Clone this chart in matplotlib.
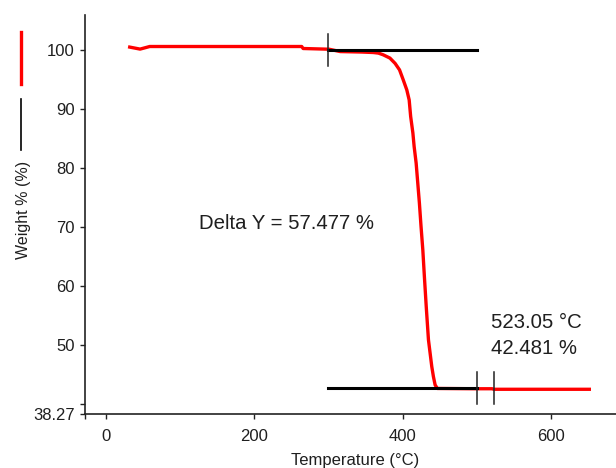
import matplotlib
matplotlib.use('Agg')
import matplotlib.pyplot as plt
from matplotlib.lines import Line2D

plt.rcParams['font.family'] = ['Liberation Sans', 'DejaVu Sans']

# TGA curve: temperature (°C) and weight (%)
temperature = [32, 46, 59, 264, 266, 301, 316, 345, 360.7, 367.5, 374, 383,
               390, 396, 401, 405.8, 409, 411, 414, 415.7, 418.4, 420.6,
               422.8, 425, 427.4, 429.5, 432, 435, 439.5, 441.7, 444, 447,
               500, 521, 523, 652]
weight = [100.46, 100.12, 100.56, 100.56, 100.22, 100.1, 99.7, 99.62, 99.54,
          99.44, 99.15, 98.6, 97.7, 96.6, 94.9, 93.2, 91.5, 88.7, 85.9, 83.6,
          80.8, 77.4, 74.0, 70.05, 66.1, 61.6, 56.5, 50.85, 46.3, 44.6, 43.2,
          42.6, 42.55, 42.55, 42.46, 42.46]

# step analysis lines (start, end, level)
upper_line = [300, 500, 99.958]
lower_line = [300, 500, 42.75]
upper_mark = 300
lower_marks = [500, 523.05]

delta_y = 57.477
end_temp = 523.05
end_weight = 42.481

y_min = 38.27
y_ticks = [y_min, 40, 50, 60, 70, 80, 90, 100]
y_tick_labels = ['38.27', '', '50', '60', '70', '80', '90', '100']
x_ticks = [-28.3, 0, 200, 400, 600]
x_tick_labels = ['', '0', '200', '400', '600']

text_color = '#1f1f1f'

fig = plt.figure(figsize=(6.16, 4.68), dpi=100)
ax = fig.add_axes([85 / 616, 1 - 414 / 468, 531 / 616, 399 / 468])

ax.plot(temperature, weight, color='red', lw=2.4)

# horizontal step lines
ax.plot(upper_line[:2], [upper_line[2]] * 2, color='black', lw=2.2)
ax.plot(lower_line[:2], [lower_line[2]] * 2, color='black', lw=2.2)

# small vertical marks
ax.plot([upper_mark, upper_mark], [upper_line[2] - 2.7, upper_line[2] + 2.7],
        color='#222222', lw=1.1)
for m in lower_marks:
    ax.plot([m, m], [lower_line[2] - 2.8, lower_line[2] + 2.6],
            color='#222222', lw=1.1)

ax.text(243, 70.6, f'Delta Y = {delta_y} %', fontsize=14.7, color=text_color,
        ha='center', va='center')
ax.text(519, 53.7, f'{end_temp} °C', fontsize=14.7, color=text_color,
        ha='left', va='center')
ax.text(519, 49.3, f'{end_weight} %', fontsize=14.7, color=text_color,
        ha='left', va='center')

ax.set_xlim(-28.3, 688)
ax.set_ylim(y_min, 105.9)
ax.set_xticks(x_ticks)
ax.set_xticklabels(x_tick_labels)
ax.set_yticks(y_ticks)
ax.set_yticklabels(y_tick_labels)

for side in ['top', 'right']:
    ax.spines[side].set_visible(False)
for side in ['left', 'bottom']:
    ax.spines[side].set_linewidth(1.2)
    ax.spines[side].set_color('#222222')
ax.tick_params(axis='both', direction='out', length=3.8, width=1.0,
               colors='#222222', labelsize=12, labelcolor=text_color)
ax.tick_params(axis='y', pad=3.5)
ax.tick_params(axis='x', pad=7)

fig.text(355 / 616, 1 - 461 / 468, 'Temperature (°C)', fontsize=12,
         color=text_color, ha='center', va='center')
fig.text(24 / 616, 1 - 210 / 468, 'Weight % (%)', fontsize=11.5,
         color=text_color, ha='center', va='center', rotation=90)

# legend handles drawn upright, like in the original
fig.add_artist(Line2D([20.7 / 616, 20.7 / 616], [1 - 31.7 / 468, 1 - 84 / 468],
                      color='red', lw=2.4, transform=fig.transFigure))
fig.add_artist(Line2D([21.3 / 616, 21.3 / 616], [1 - 99 / 468, 1 - 150 / 468],
                      color='black', lw=1.2, transform=fig.transFigure))

fig.savefig('out.png', dpi=100)
